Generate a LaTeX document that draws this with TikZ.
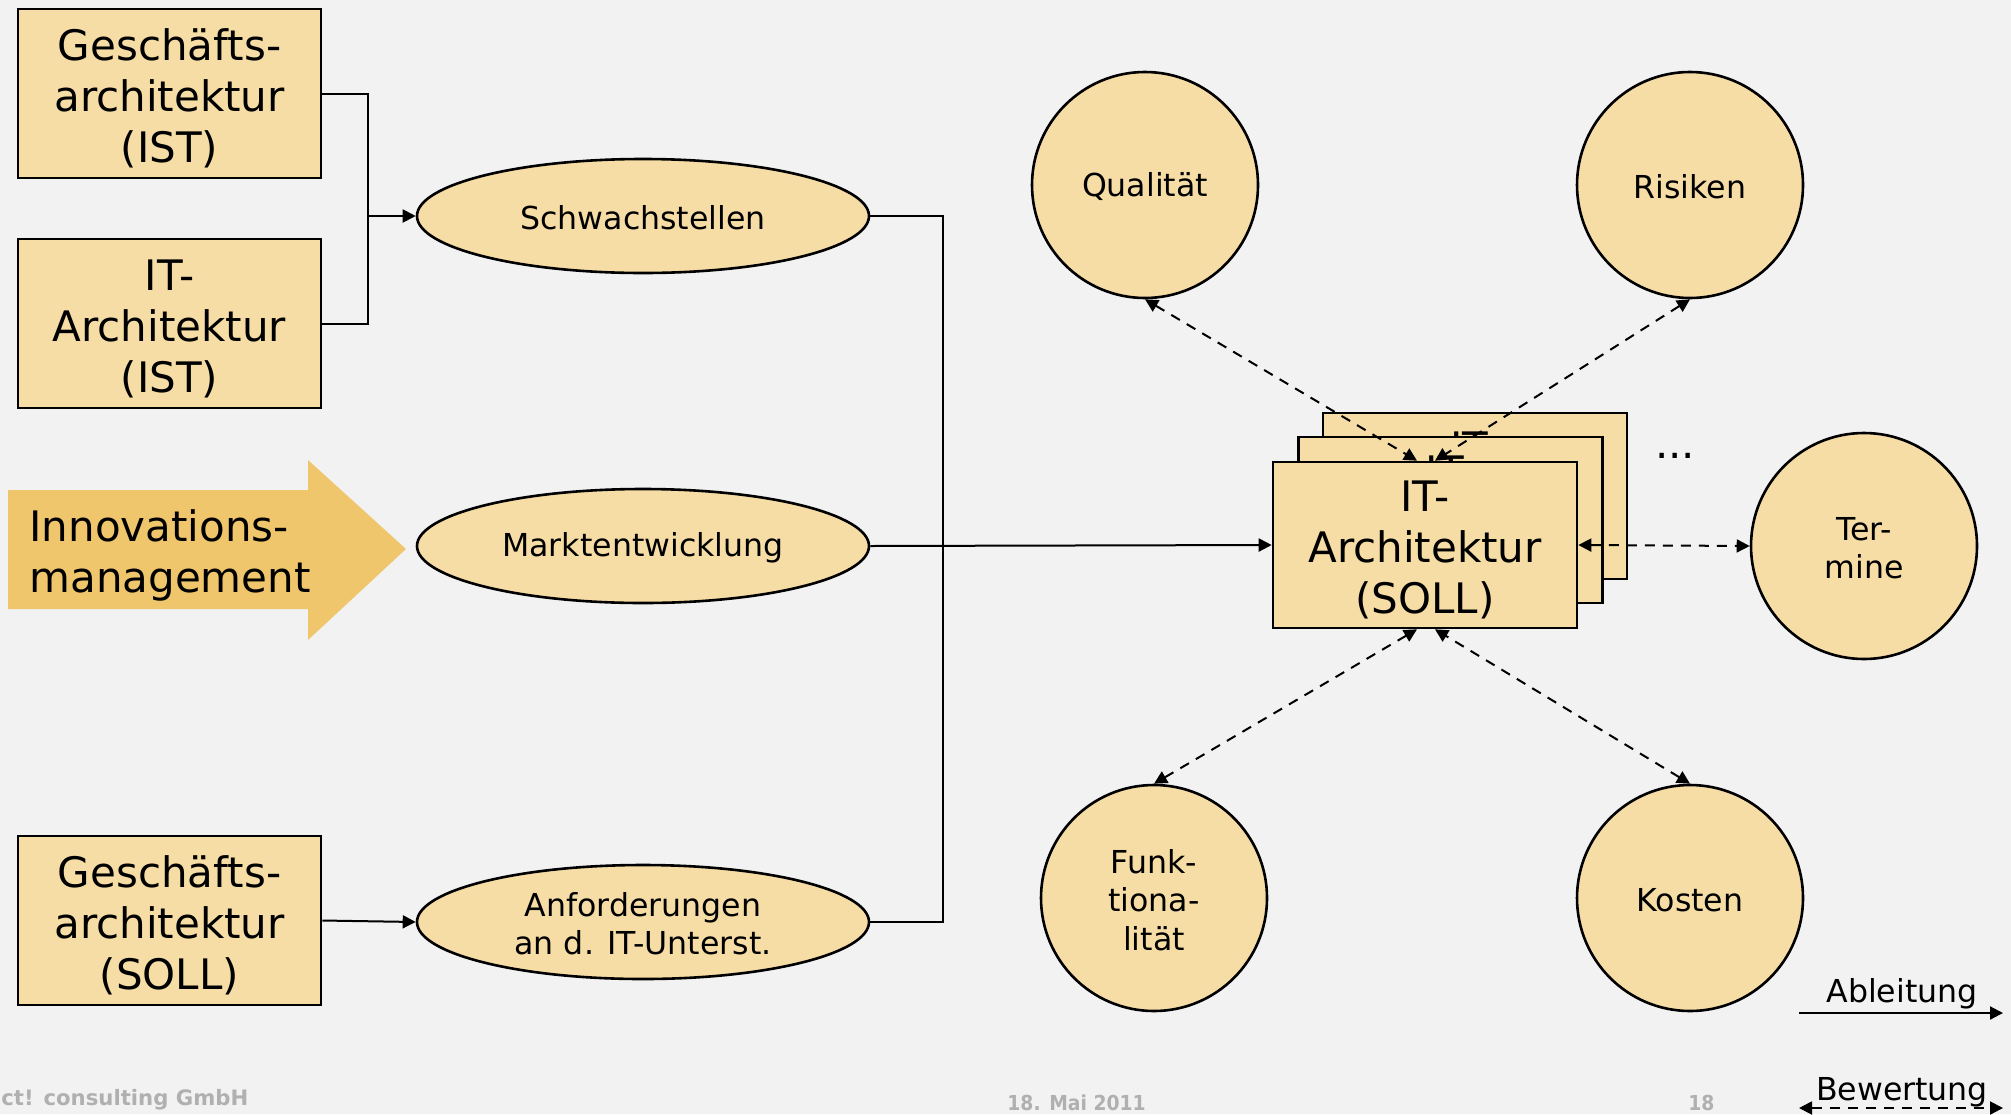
\documentclass[tikz,border=0pt]{standalone}
\usepackage{fontspec}
\setmainfont{DejaVu Sans}
\newfontfamily\footbold{DejaVu Sans}
\newfontfamily\footnarrow{DejaVu Sans}[FakeStretch=0.91]
\usetikzlibrary{shapes.geometric,arrows.meta}
\definecolor{bgcol}{HTML}{F2F2F2}
\definecolor{boxfill}{HTML}{F6DDA6}
\definecolor{arrowfill}{HTML}{F0C66C}
\definecolor{footgray}{HTML}{B0B0B0}
\newcommand\fntL{\fontsize{21}{25.5}\selectfont}
\newcommand\fntM{\fontsize{15.8}{19.2}\selectfont}
\newcommand\fntF{\fontsize{10.6}{12}\selectfont}
% struts that balance the first line of centred node texts
\newcommand\topL{\rule{0pt}{20.5pt}}
\newcommand\topM{\rule{0pt}{14pt}}

\begin{document}
\begin{tikzpicture}[x=0.5pt,y=-0.5pt,
  shape base/.style={draw, line width=1.3pt, fill=boxfill, inner sep=0pt, align=center},
  rbox/.style={shape base, rectangle, minimum width=151.5pt, minimum height=84.5pt, font=\fntL},
  sollbox/.style={shape base, rectangle, minimum width=152pt, minimum height=83pt, font=\fntL},
  oval/.style={shape base, ellipse, minimum width=226pt, minimum height=57pt, font=\fntM},
  disc/.style={shape base, circle, minimum size=113pt, font=\fntM},
  link/.style={line width=1pt},
  flow/.style={line width=1pt, -{Triangle[length=6.5pt,width=6.5pt]}},
  rate/.style={line width=1pt, dash pattern=on 5pt off 4pt,
    {Triangle[length=6.5pt,width=6.5pt]}-{Triangle[length=6.5pt,width=6.5pt]}},
  foot/.style={text=footgray, anchor=base west, inner sep=0pt}
]
% canvas
\fill[bgcol] (0,0) rectangle (2011,1114);
\useasboundingbox (0,0) rectangle (2011,1114);

% input architectures
\node[rbox] (gIst)  at (169.5,93.5)  {\topL Geschäfts-\\architektur\\(IST)};
\node[rbox] (itIst) at (169.5,323.5) {\topL IT-\\Architektur\\(IST)};
\node[rbox] (gSoll) at (169.5,920.5) {\topL Geschäfts-\\architektur\\(SOLL)};

% innovation management arrow
\fill[arrowfill] (8,490) -- (308,490) -- (308,460) -- (406,549) -- (308,640)
  -- (308,609) -- (8,609) -- cycle;
\node[font=\fntL, align=left, anchor=west, inner sep=0pt] (inno) at (29,555)
  {Innovations-\\management};

% analysis ellipses
\node[oval] (schw)  at (643,216) {\topM Schwachstellen};
\node[oval] (markt) at (643,546) {\topM Marktentwicklung};
\node[oval] (anf)   at (643,922) {\topM Anforderungen\\an d. IT-Unterst.};

% stacked target architectures
\node[sollbox] (itS3)   at (1475,496)   {\topL IT-\\Architektur\\(SOLL)};
\node[sollbox] (itS2)   at (1450.5,520) {\topL IT-\\Architektur\\(SOLL)};
\node[sollbox] (itSoll) at (1425,545)   {\topL IT-\\Architektur\\(SOLL)};
\node[font=\fntL, anchor=base, inner sep=0pt] (more) at (1675,458) {...};

% evaluation criteria
\node[disc] (qual) at (1145,185) {\topM Qualität};
\node[disc] (ris)  at (1690,185) {\topM Risiken};
\node[disc] (term) at (1864,546) {\topM Ter-\\mine};
\node[disc] (funk) at (1154,898) {\topM Funk-\\tiona-\\lität};
\node[disc] (kost) at (1690,898) {\topM Kosten};

% derivation connectors
\coordinate (joinL) at (368,216);
\draw[link] (gIst.east) -| (joinL);
\draw[link] (itIst.east) -| (joinL);
\draw[flow] (joinL) -- (schw.west);
\draw[flow] (gSoll.east) -- (anf.west);
\coordinate (bus) at (943,0);
\draw[link] (schw.east) -| (bus |- anf.east) -- (anf.east);
\draw[flow] (markt.east) -- (itSoll.west);

% evaluation connectors
\draw[rate] (qual.south) -- ([xshift=-4pt]itSoll.north);
\draw[rate] (ris.south)  -- ([xshift=5pt]itSoll.north);
\draw[rate] (funk.north) -- ([xshift=-4pt]itSoll.south);
\draw[rate] (kost.north) -- ([xshift=5pt]itSoll.south);
\draw[rate] (itSoll.east) -- (term.west);

% legend
\node[font=\fntM, anchor=base, inner sep=0pt] (legA) at (1902,1002) {Ableitung};
\coordinate (legA1) at (1799,1013);
\coordinate (legA2) at (2003,1013);
\draw[flow] (legA1) -- (legA2);
\node[font=\fntM, anchor=base, inner sep=0pt] (legB) at (1902,1100) {Bewertung};
\coordinate (legB1) at (1799,1108);
\coordinate (legB2) at (2003,1108);
\draw[rate] (legB1) -- (legB2);

% footer
\node[foot, font=\footbold\bfseries\fntF] (firm) at (1,1105) {ct! consulting GmbH};
\node[foot, font=\footnarrow\bfseries\fontsize{10.3}{12}\selectfont] (date) at (1007,1110) {18. Mai 2011};
\node[foot, font=\footnarrow\bfseries\fontsize{10.3}{12}\selectfont] (page) at (1688,1110) {18};
\end{tikzpicture}
\end{document}
